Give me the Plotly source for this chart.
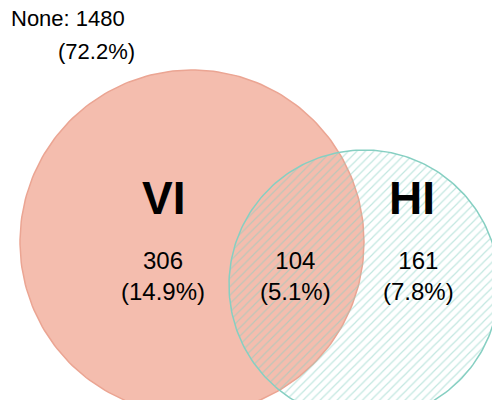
import numpy as np
import plotly.graph_objects as go

sets = ["VI", "HI"]
only_counts = [306, 161]
only_pct = ["14.9%", "7.8%"]
both_count = 104
both_pct = "5.1%"
none_count = 1480
none_pct = "72.2%"

# circle geometry in pixel coordinates (x right, y down)
centers = [(184, 234), (356, 277)]
radii = [172, 135]

t = np.linspace(0, 2 * np.pi, 240)
fig = go.Figure()

cx, cy = centers[0]
fig.add_trace(go.Scatter(
    x=cx + radii[0] * np.cos(t), y=cy + radii[0] * np.sin(t),
    fill="toself", mode="lines", fillcolor="#F4BDAE",
    line=dict(color="#EBA593", width=1.5), hoverinfo="skip"))

cx, cy = centers[1]
fig.add_trace(go.Scatter(
    x=cx + radii[1] * np.cos(t), y=cy + radii[1] * np.sin(t),
    fill="toself", mode="lines", fillcolor="rgba(0,0,0,0)",
    fillpattern=dict(shape="/", fgcolor="#86CFC2", bgcolor="rgba(0,0,0,0)",
                     size=6, solidity=0.2),
    line=dict(color="#86CFC2", width=1.5), hoverinfo="skip"))

font = dict(family="Liberation Sans, Arial", color="black")
ann = []
ann.append(dict(x=155, y=190, text="<b>%s</b>" % sets[0], font=dict(size=46, **font)))
ann.append(dict(x=404, y=190, text="<b>%s</b>" % sets[1], font=dict(size=46, **font)))
ann.append(dict(x=155, y=268, text="%d<br>(%s)" % (only_counts[0], only_pct[0]), font=dict(size=24, **font)))
ann.append(dict(x=410, y=268, text="%d<br>(%s)" % (only_counts[1], only_pct[1]), font=dict(size=24, **font)))
ann.append(dict(x=287, y=268, text="%d<br>(%s)" % (both_count, both_pct), font=dict(size=24, **font)))
ann.append(dict(x=60, y=10, text="None: %d" % none_count, font=dict(size=22, **font)))
ann.append(dict(x=88, y=43, text="(%s)" % none_pct, font=dict(size=22, **font)))
for a in ann:
    a.update(xref="x", yref="y", showarrow=False)

fig.update_layout(
    width=500, height=400, margin=dict(l=0, r=0, t=0, b=0),
    plot_bgcolor="white", paper_bgcolor="white", showlegend=False,
    xaxis=dict(range=[0, 500], visible=False),
    yaxis=dict(range=[400, 0], visible=False),
    annotations=ann)

fig.write_html("out.html")
